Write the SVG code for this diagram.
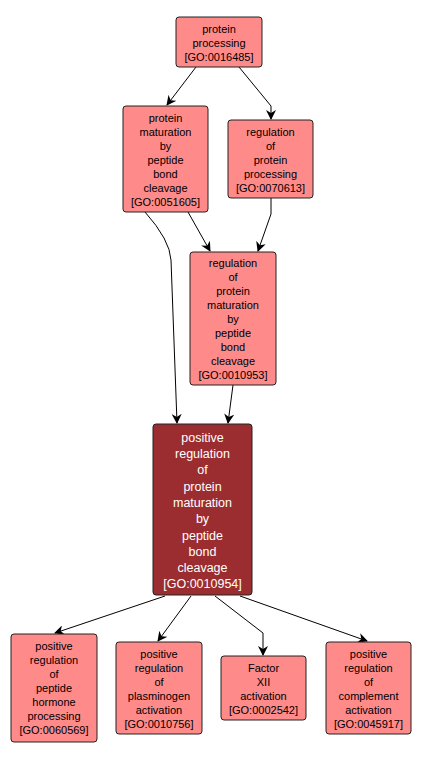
<svg xmlns="http://www.w3.org/2000/svg" width="421" height="759" viewBox="0 0 421 759">
<style>
.n{fill:#FF8A8A;stroke:#222;stroke-width:1}
.d{fill:#9B2D30;stroke:#222;stroke-width:1}
text{font-family:"Liberation Sans",Arial,sans-serif;font-size:11px;fill:#000;text-anchor:middle}
.w{fill:#fff;font-size:12.5px}
.e{fill:none;stroke:#000;stroke-width:1;marker-end:url(#a)}
</style>
<defs>
<marker id="a" viewBox="0 0 10 10" refX="9" refY="5" markerWidth="10" markerHeight="10" markerUnits="userSpaceOnUse" orient="auto">
<path d="M0,0 L10,5 L0,10 L3,5 Z" fill="#000"/>
</marker>
</defs>
<rect width="421" height="759" fill="#fff"/>
<g id="edges">
<path class="e" d="M196,67 L167,105"/>
<path class="e" d="M239,67 L271,106 L271,119"/>
<path class="e" d="M188,212 L210,251"/>
<path class="e" d="M271,198 L271,214 L258,251"/>
<path class="e" d="M145,212 Q170,240 171,260 L177,423"/>
<path class="e" d="M233,385 L228,423"/>
<path class="e" d="M165,596 L55,633"/>
<path class="e" d="M191,596 L158,641"/>
<path class="e" d="M215,596 L263,633 L263,655"/>
<path class="e" d="M240,596 L367,641"/>
</g>
<g id="n16485">
<rect class="n" x="176" y="17" width="86" height="50" rx="3"/>
<text x="219" y="33">protein</text><text x="219" y="47">processing</text><text x="219" y="61">[GO:0016485]</text>
</g>
<g id="n51605">
<rect class="n" x="123" y="106" width="85" height="106" rx="3"/>
<text x="165.5" y="122">protein</text><text x="165.5" y="136">maturation</text><text x="165.5" y="150">by</text><text x="165.5" y="164">peptide</text><text x="165.5" y="178">bond</text><text x="165.5" y="192">cleavage</text><text x="165.5" y="206">[GO:0051605]</text>
</g>
<g id="n70613">
<rect class="n" x="228" y="120" width="85" height="78" rx="3"/>
<text x="270.5" y="136">regulation</text><text x="270.5" y="150">of</text><text x="270.5" y="164">protein</text><text x="270.5" y="178">processing</text><text x="270.5" y="192">[GO:0070613]</text>
</g>
<g id="n10953">
<rect class="n" x="190" y="252" width="86" height="133" rx="3"/>
<text x="233" y="267">regulation</text><text x="233" y="281">of</text><text x="233" y="295">protein</text><text x="233" y="309">maturation</text><text x="233" y="323">by</text><text x="233" y="337">peptide</text><text x="233" y="351">bond</text><text x="233" y="365">cleavage</text><text x="233" y="379">[GO:0010953]</text>
</g>
<g id="n10954">
<rect class="d" x="153" y="424" width="99" height="171" rx="3"/>
<text class="w" x="202.5" y="442">positive</text><text class="w" x="202.5" y="458">regulation</text><text class="w" x="202.5" y="474">of</text><text class="w" x="202.5" y="491">protein</text><text class="w" x="202.5" y="507">maturation</text><text class="w" x="202.5" y="523">by</text><text class="w" x="202.5" y="540">peptide</text><text class="w" x="202.5" y="556">bond</text><text class="w" x="202.5" y="572">cleavage</text><text class="w" x="202.5" y="588">[GO:0010954]</text>
</g>
<g id="n60569">
<rect class="n" x="11" y="634" width="86" height="108" rx="3"/>
<text x="54" y="650">positive</text><text x="54" y="664">regulation</text><text x="54" y="678">of</text><text x="54" y="692">peptide</text><text x="54" y="706">hormone</text><text x="54" y="720">processing</text><text x="54" y="734">[GO:0060569]</text>
</g>
<g id="n10756">
<rect class="n" x="116" y="642" width="86" height="92" rx="3"/>
<text x="159" y="658">positive</text><text x="159" y="672">regulation</text><text x="159" y="686">of</text><text x="159" y="700">plasminogen</text><text x="159" y="714">activation</text><text x="159" y="728">[GO:0010756]</text>
</g>
<g id="n02542">
<rect class="n" x="221" y="656" width="85" height="64" rx="3"/>
<text x="263.5" y="672">Factor</text><text x="263.5" y="686">XII</text><text x="263.5" y="700">activation</text><text x="263.5" y="714">[GO:0002542]</text>
</g>
<g id="n45917">
<rect class="n" x="326" y="642" width="85" height="92" rx="3"/>
<text x="368.5" y="658">positive</text><text x="368.5" y="672">regulation</text><text x="368.5" y="686">of</text><text x="368.5" y="700">complement</text><text x="368.5" y="714">activation</text><text x="368.5" y="728">[GO:0045917]</text>
</g>
</svg>
